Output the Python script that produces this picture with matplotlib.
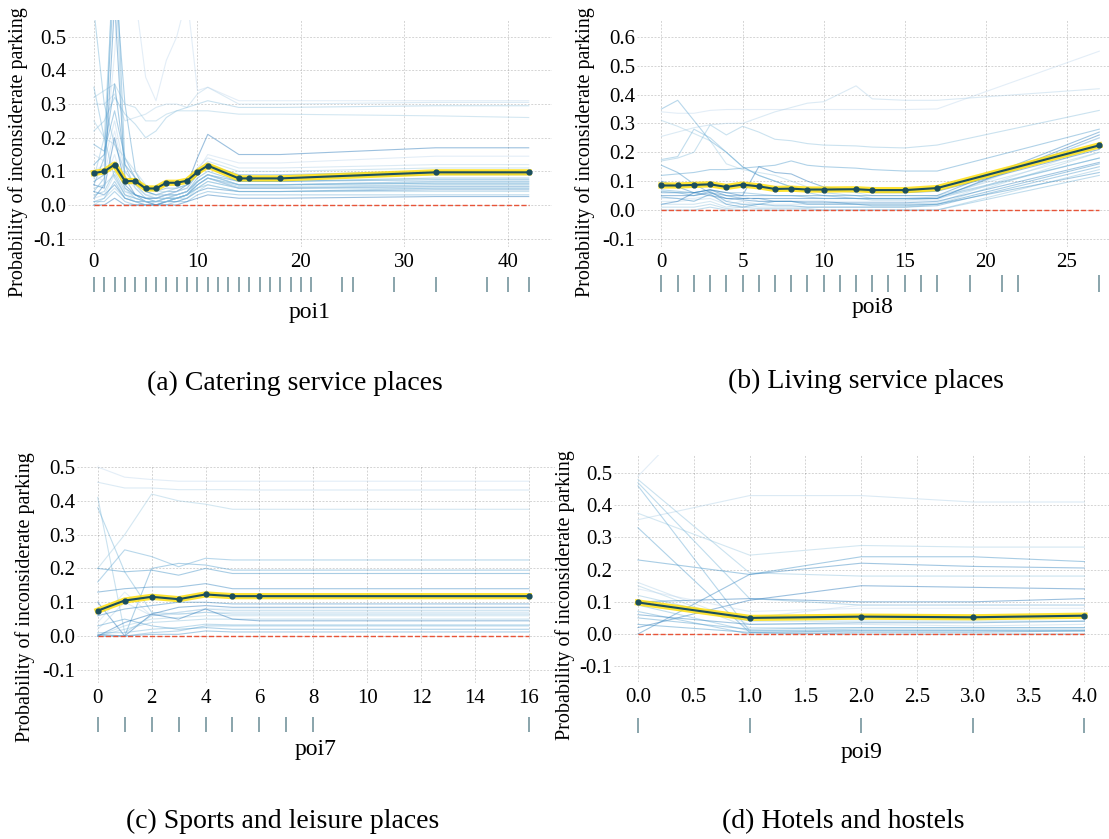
import matplotlib
matplotlib.use('Agg')
import matplotlib.pyplot as plt
import numpy as np

W, H = 1109, 839

plt.rcParams['font.family'] = ['Liberation Serif', 'DejaVu Serif']
plt.rcParams['axes.unicode_minus'] = False

YLABEL = 'Probability of inconsiderate parking'

# ---- poi1: catering service places ----
poi1_grid = [0, 1, 2, 3, 4, 5, 6, 7, 8, 9, 10, 11, 14, 15, 18, 33, 42]
poi1_pdp = [0.095, 0.100, 0.120, 0.071, 0.071, 0.049, 0.049, 0.066, 0.066, 0.072,
            0.098, 0.117, 0.079, 0.079, 0.079, 0.097, 0.097]
poi1_pts = list(range(22)) + [24, 25, 29, 33, 38, 40, 42]
poi1_ice = [
    [0.10, 0.12, 0.45, 0.90, 0.62, 0.38, 0.31, 0.43, 0.50, 0.62, 0.34, 0.35, 0.31, 0.31, 0.31, 0.31, 0.31],
    [0.30, 0.30, 0.33, 0.25, 0.26, 0.27, 0.29, 0.30, 0.30, 0.29, 0.33, 0.35, 0.30, 0.30, 0.30, 0.305, 0.305],
    [0.32, 0.34, 0.36, 0.30, 0.29, 0.25, 0.25, 0.27, 0.28, 0.28, 0.28, 0.28, 0.27, 0.27, 0.27, 0.265, 0.26],
    [0.22, 0.25, 0.32, 0.27, 0.24, 0.20, 0.22, 0.26, 0.28, 0.29, 0.30, 0.31, 0.29, 0.29, 0.29, 0.295, 0.295],
    [0.58, 0.30, 0.18, 0.10, 0.06, 0.03, 0.02, 0.03, 0.03, 0.04, 0.07, 0.09, 0.06, 0.06, 0.06, 0.065, 0.065],
    [0.04, 0.08, 0.85, 0.12, 0.05, 0.02, 0.01, 0.02, 0.02, 0.03, 0.07, 0.09, 0.06, 0.06, 0.06, 0.07, 0.07],
    [0.06, 0.14, 0.70, 0.30, 0.10, 0.04, 0.03, 0.03, 0.03, 0.04, 0.08, 0.10, 0.07, 0.07, 0.07, 0.08, 0.08],
    [0.12, 0.15, 0.36, 0.12, 0.08, 0.04, 0.03, 0.04, 0.04, 0.05, 0.09, 0.12, 0.08, 0.08, 0.08, 0.09, 0.09],
    [0.02, 0.06, 0.60, 0.08, 0.03, 0.01, 0.00, 0.01, 0.02, 0.03, 0.06, 0.08, 0.05, 0.05, 0.05, 0.055, 0.055],
    [0.06, 0.05, 0.20, 0.06, 0.03, 0.02, 0.02, 0.03, 0.04, 0.06, 0.14, 0.21, 0.15, 0.15, 0.15, 0.17, 0.17],
    [0.10, 0.09, 0.22, 0.08, 0.05, 0.03, 0.02, 0.03, 0.04, 0.05, 0.10, 0.15, 0.125, 0.125, 0.125, 0.145, 0.145],
    [0.15, 0.13, 0.25, 0.10, 0.06, 0.03, 0.03, 0.04, 0.05, 0.06, 0.11, 0.14, 0.11, 0.11, 0.11, 0.12, 0.12],
    [0.00, 0.02, 0.05, 0.02, 0.01, 0.00, 0.00, 0.01, 0.01, 0.02, 0.05, 0.07, 0.05, 0.05, 0.05, 0.06, 0.06],
    [0.05, 0.06, 0.09, 0.03, 0.02, 0.01, 0.01, 0.02, 0.02, 0.03, 0.06, 0.08, 0.055, 0.055, 0.055, 0.06, 0.06],
    [0.03, 0.04, 0.10, 0.04, 0.03, 0.02, 0.01, 0.01, 0.02, 0.03, 0.05, 0.06, 0.04, 0.04, 0.04, 0.05, 0.05],
    [0.01, 0.01, 0.04, 0.01, 0.00, 0.00, 0.00, 0.00, 0.01, 0.01, 0.03, 0.04, 0.03, 0.03, 0.03, 0.03, 0.03],
    [0.18, 0.16, 0.28, 0.14, 0.08, 0.05, 0.04, 0.05, 0.05, 0.06, 0.09, 0.12, 0.09, 0.09, 0.09, 0.10, 0.10],
    [0.07, 0.09, 0.12, 0.05, 0.03, 0.02, 0.02, 0.02, 0.03, 0.04, 0.07, 0.09, 0.07, 0.07, 0.07, 0.075, 0.075],
    [0.04, 0.03, 0.06, 0.02, 0.01, 0.01, 0.00, 0.01, 0.01, 0.02, 0.04, 0.05, 0.04, 0.04, 0.04, 0.045, 0.045],
    [0.00, 0.00, 0.02, 0.00, 0.00, 0.00, 0.00, 0.00, 0.00, 0.01, 0.02, 0.03, 0.02, 0.02, 0.02, 0.025, 0.025],
    [0.09, 0.07, 0.15, 0.04, 0.02, 0.01, 0.01, 0.01, 0.02, 0.03, 0.06, 0.08, 0.05, 0.05, 0.05, 0.055, 0.055],
    [0.02, 0.03, 0.09, 0.03, 0.01, 0.00, 0.01, 0.02, 0.03, 0.04, 0.07, 0.09, 0.06, 0.06, 0.06, 0.07, 0.07],
    [0.25, 0.20, 0.18, 0.14, 0.10, 0.06, 0.04, 0.04, 0.05, 0.06, 0.10, 0.13, 0.10, 0.10, 0.10, 0.11, 0.11],
    [0.08, 0.20, 0.75, 0.05, 0.02, 0.01, 0.01, 0.01, 0.02, 0.02, 0.04, 0.06, 0.04, 0.04, 0.04, 0.04, 0.04],
    [0.35, 0.20, 0.08, 0.03, 0.02, 0.01, 0.01, 0.02, 0.02, 0.03, 0.05, 0.07, 0.05, 0.05, 0.05, 0.05, 0.05],
    [0.01, 0.02, 0.07, 0.02, 0.01, 0.00, 0.00, 0.01, 0.02, 0.03, 0.06, 0.08, 0.06, 0.06, 0.06, 0.065, 0.065],
]

# ---- poi8: living service places ----
poi8_grid = [0, 1, 2, 3, 4, 5, 6, 7, 8, 9, 10, 12, 13, 15, 17, 27]
poi8_pdp = [0.085, 0.085, 0.087, 0.089, 0.080, 0.088, 0.082, 0.073, 0.074, 0.071,
            0.071, 0.072, 0.069, 0.069, 0.076, 0.224]
poi8_pts = list(range(18)) + [19, 21, 22, 27]
poi8_ice = [
    [0.34, 0.335, 0.335, 0.345, 0.348, 0.348, 0.348, 0.348, 0.348, 0.348, 0.348, 0.348, 0.348, 0.348, 0.35, 0.55],
    [0.255, 0.27, 0.285, 0.295, 0.30, 0.30, 0.32, 0.34, 0.355, 0.37, 0.375, 0.43, 0.385, 0.38, 0.38, 0.42],
    [0.31, 0.29, 0.265, 0.24, 0.16, 0.14, 0.13, 0.12, 0.10, 0.08, 0.07, 0.06, 0.05, 0.05, 0.05, 0.20],
    [0.17, 0.18, 0.20, 0.295, 0.26, 0.29, 0.27, 0.245, 0.24, 0.23, 0.225, 0.222, 0.218, 0.215, 0.225, 0.345],
    [0.175, 0.185, 0.28, 0.25, 0.20, 0.15, 0.12, 0.10, 0.08, 0.07, 0.06, 0.05, 0.04, 0.04, 0.04, 0.18],
    [0.35, 0.38, 0.31, 0.24, 0.20, 0.15, 0.12, 0.10, 0.08, 0.06, 0.05, 0.04, 0.035, 0.035, 0.04, 0.25],
    [0.12, 0.125, 0.13, 0.14, 0.14, 0.145, 0.15, 0.155, 0.17, 0.155, 0.15, 0.145, 0.14, 0.135, 0.135, 0.28],
    [0.155, 0.13, 0.09, 0.06, 0.05, 0.04, 0.04, 0.03, 0.03, 0.03, 0.03, 0.02, 0.02, 0.02, 0.02, 0.16],
    [0.06, 0.06, 0.06, 0.07, 0.05, 0.05, 0.05, 0.05, 0.05, 0.05, 0.05, 0.05, 0.05, 0.05, 0.05, 0.27],
    [0.05, 0.05, 0.05, 0.06, 0.04, 0.04, 0.04, 0.04, 0.04, 0.04, 0.04, 0.04, 0.04, 0.04, 0.04, 0.26],
    [0.04, 0.04, 0.04, 0.05, 0.03, 0.05, 0.03, 0.03, 0.03, 0.03, 0.03, 0.03, 0.03, 0.03, 0.035, 0.25],
    [0.03, 0.03, 0.035, 0.04, 0.02, 0.03, 0.02, 0.02, 0.02, 0.02, 0.02, 0.02, 0.02, 0.02, 0.025, 0.22],
    [0.02, 0.02, 0.02, 0.03, 0.01, 0.02, 0.01, 0.01, 0.01, 0.01, 0.01, 0.01, 0.01, 0.01, 0.02, 0.20],
    [0.01, 0.01, 0.01, 0.02, 0.005, 0.01, 0.005, 0.005, 0.005, 0.005, 0.0, 0.0, 0.0, 0.0, 0.0, 0.14],
    [0.0, 0.0, 0.0, 0.01, 0.0, 0.0, 0.0, 0.0, 0.0, 0.0, 0.0, 0.0, 0.0, 0.0, 0.0, 0.12],
    [0.07, 0.065, 0.06, 0.07, 0.06, 0.06, 0.055, 0.05, 0.05, 0.045, 0.04, 0.04, 0.04, 0.04, 0.045, 0.18],
    [0.065, 0.06, 0.05, 0.065, 0.03, 0.02, 0.02, 0.015, 0.015, 0.01, 0.01, 0.01, 0.01, 0.01, 0.015, 0.15],
    [0.045, 0.04, 0.03, 0.055, 0.02, 0.01, 0.02, 0.03, 0.03, 0.02, 0.02, 0.02, 0.015, 0.015, 0.02, 0.13],
    [0.10, 0.08, 0.06, 0.05, 0.04, 0.035, 0.03, 0.03, 0.03, 0.025, 0.025, 0.025, 0.025, 0.025, 0.03, 0.165],
    [0.02, 0.03, 0.06, 0.07, 0.06, 0.05, 0.15, 0.13, 0.125, 0.10, 0.08, 0.07, 0.06, 0.06, 0.065, 0.21],
]

# ---- poi7: sports and leisure places ----
poi7_grid = [0, 1, 2, 3, 4, 5, 6, 16]
poi7_pdp = [0.075, 0.105, 0.116, 0.109, 0.123, 0.118, 0.118, 0.118]
poi7_pts = [0, 1, 2, 3, 4, 5, 6, 7, 8, 16]
poi7_ice = [
    [0.50, 0.47, 0.463, 0.458, 0.458, 0.458, 0.458, 0.458],
    [0.455, 0.438, 0.438, 0.433, 0.433, 0.433, 0.432, 0.432],
    [0.20, 0.30, 0.42, 0.40, 0.39, 0.375, 0.375, 0.375],
    [0.41, 0.01, 0.06, 0.07, 0.08, 0.075, 0.075, 0.075],
    [0.38, 0.19, 0.07, 0.065, 0.07, 0.065, 0.065, 0.065],
    [0.16, 0.255, 0.235, 0.205, 0.23, 0.225, 0.225, 0.225],
    [0.0, 0.0, 0.20, 0.215, 0.21, 0.195, 0.195, 0.195],
    [0.20, 0.19, 0.195, 0.18, 0.20, 0.185, 0.185, 0.185],
    [0.13, 0.14, 0.145, 0.145, 0.155, 0.14, 0.14, 0.14],
    [0.10, 0.0, 0.065, 0.085, 0.09, 0.085, 0.085, 0.085],
    [0.04, 0.13, 0.06, 0.07, 0.08, 0.08, 0.08, 0.08],
    [0.02, 0.10, 0.06, 0.065, 0.07, 0.07, 0.07, 0.07],
    [0.0, 0.03, 0.05, 0.055, 0.06, 0.06, 0.06, 0.06],
    [0.0, 0.02, 0.04, 0.045, 0.05, 0.05, 0.05, 0.05],
    [0.01, 0.01, 0.02, 0.025, 0.035, 0.033, 0.033, 0.033],
    [0.0, 0.0, 0.01, 0.015, 0.03, 0.03, 0.03, 0.03],
    [0.03, 0.05, 0.03, 0.02, 0.025, 0.02, 0.02, 0.02],
    [0.005, 0.0, 0.005, 0.005, 0.015, 0.012, 0.012, 0.012],
    [0.06, 0.08, 0.09, 0.10, 0.10, 0.095, 0.095, 0.095],
    [0.0, 0.04, 0.065, 0.05, 0.08, 0.05, 0.045, 0.045],
]

# ---- poi9: hotels and hostels ----
poi9_grid = [0, 1, 2, 3, 4]
poi9_pdp = [0.098, 0.050, 0.054, 0.052, 0.057]
poi9_pts = [0, 1, 2, 3, 4]
poi9_ice = [
    [0.49, 0.85, 0.85, 0.82, 0.82],
    [0.355, 0.43, 0.43, 0.41, 0.41],
    [0.375, 0.245, 0.275, 0.27, 0.27],
    [0.48, 0.19, 0.18, 0.18, 0.18],
    [0.47, 0.11, 0.09, 0.09, 0.09],
    [0.46, 0.01, 0.01, 0.01, 0.01],
    [0.33, 0.005, 0.0, 0.0, 0.0],
    [0.23, 0.185, 0.24, 0.24, 0.225],
    [0.0, 0.185, 0.22, 0.21, 0.205],
    [0.02, 0.105, 0.15, 0.145, 0.14],
    [0.10, 0.05, 0.09, 0.09, 0.09],
    [0.16, 0.03, 0.03, 0.025, 0.03],
    [0.15, 0.02, 0.02, 0.02, 0.02],
    [0.12, 0.04, 0.04, 0.04, 0.04],
    [0.09, 0.01, 0.015, 0.015, 0.015],
    [0.07, 0.0, 0.005, 0.005, 0.01],
    [0.05, 0.015, 0.02, 0.02, 0.02],
    [0.03, 0.005, 0.01, 0.01, 0.01],
    [0.06, 0.03, 0.035, 0.035, 0.04],
    [0.10, 0.11, 0.10, 0.10, 0.11],
    [0.14, 0.07, 0.08, 0.08, 0.08],
]


def box(left, top, right, bottom):
    """pixel rectangle -> figure fraction rectangle"""
    return [left / W, 1 - bottom / H, (right - left) / W, (bottom - top) / H]


def fx(x):
    return x / W


def fy(y):
    return 1 - y / H


def ice_panel(fig, grid, ice, pdp, pts, name, caption, lay):
    ax = fig.add_axes(box(*lay['main']))
    colors = plt.get_cmap('Blues')(np.linspace(0, 1, 20))[5:15]
    for i, line in enumerate(ice):
        ax.plot(grid, line, lw=0.8, color=colors[i % 10], alpha=0.45)
    ax.plot(grid, pdp, color='#FEDC00', lw=4.5, alpha=0.8)
    ax.plot(grid, pdp, color='#1A4E5D', lw=1.5, marker='o', markersize=3.5)
    ax.plot([grid[0], grid[-1]], [0, 0], ls='--', lw=1, color='#E75438')

    ax.set_xlim(lay['xlim'])
    ax.set_ylim(lay['ylim'])
    ax.set_xticks(lay['xticks'])
    ax.set_xticklabels([lay['xfmt'] % v for v in lay['xticks']])
    ax.set_yticks(lay['yticks'])
    ax.set_yticklabels(['%.1f' % v for v in lay['yticks']])
    ax.tick_params(axis='both', length=0, labelsize=15, labelcolor='black')
    ax.tick_params(axis='x', pad=4)
    ax.tick_params(axis='y', pad=1)
    for s in ['top', 'bottom', 'right', 'left']:
        ax.spines[s].set_visible(False)
    ax.grid(True, 'major', 'both', ls=(0, (2, 1.5)), lw=0.7, c='k', alpha=0.17)

    # distribution of the observed values
    dax = fig.add_axes(box(*lay['dist']))
    dax.vlines(pts, 0, 1, color='#1A4E5D', alpha=0.65, lw=1.1)
    dax.set_xlim(lay['xlim'])
    dax.set_ylim(0, 1)
    dax.axis('off')

    cx = (lay['main'][0] + lay['main'][2]) / 2
    fig.text(fx(cx), fy(lay['xlab_y']), name, ha='center', va='baseline', fontsize=17)
    fig.text(fx(lay['ylab'][0]), fy(lay['ylab'][1]), YLABEL, rotation=90,
             ha='center', va='center', fontsize=14.5)
    fig.text(fx(lay['cap'][0]), fy(lay['cap'][1]), caption, ha='center',
             va='baseline', fontsize=20)
    return ax


fig = plt.figure(figsize=(W / 100, H / 100), dpi=100)

ice_panel(fig, poi1_grid, poi1_ice, poi1_pdp, poi1_pts, 'poi1',
          '(a) Catering service places',
          dict(main=(68, 20, 552, 247), dist=(68, 277, 552, 292),
               xlim=(-2.5, 44.25), ylim=(-0.125, 0.55),
               xticks=[0, 10, 20, 30, 40], xfmt='%d',
               yticks=[-0.1, 0.0, 0.1, 0.2, 0.3, 0.4, 0.5],
               xlab_y=318, ylab=(18, 152), cap=(295, 390)))

ice_panel(fig, poi8_grid, poi8_ice, poi8_pdp, poi8_pts, 'poi8',
          '(b) Living service places',
          dict(main=(637, 20, 1109, 247), dist=(637, 275, 1109, 292),
               xlim=(-1.51, 27.6), ylim=(-0.128, 0.658),
               xticks=[0, 5, 10, 15, 20, 25], xfmt='%d',
               yticks=[-0.1, 0.0, 0.1, 0.2, 0.3, 0.4, 0.5, 0.6],
               xlab_y=313, ylab=(585, 152), cap=(866, 388)))

ice_panel(fig, poi7_grid, poi7_ice, poi7_pdp, poi7_pts, 'poi7',
          '(c) Sports and leisure places',
          dict(main=(77, 465, 555, 683), dist=(77, 717, 555, 732),
               xlim=(-0.77, 16.97), ylim=(-0.139, 0.506),
               xticks=list(range(0, 17, 2)), xfmt='%d',
               yticks=[-0.1, 0.0, 0.1, 0.2, 0.3, 0.4, 0.5],
               xlab_y=755, ylab=(25, 597), cap=(283, 828)))

ice_panel(fig, poi9_grid, poi9_ice, poi9_pdp, poi9_pts, 'poi9',
          '(d) Hotels and hostels',
          dict(main=(614, 455, 1109, 682), dist=(614, 718, 1109, 733),
               xlim=(-0.215, 4.22), ylim=(-0.149, 0.556),
               xticks=[0.0, 0.5, 1.0, 1.5, 2.0, 2.5, 3.0, 3.5, 4.0], xfmt='%.1f',
               yticks=[-0.1, 0.0, 0.1, 0.2, 0.3, 0.4, 0.5],
               xlab_y=758, ylab=(565, 595), cap=(843, 828)))

fig.savefig('out.png', dpi=100)
